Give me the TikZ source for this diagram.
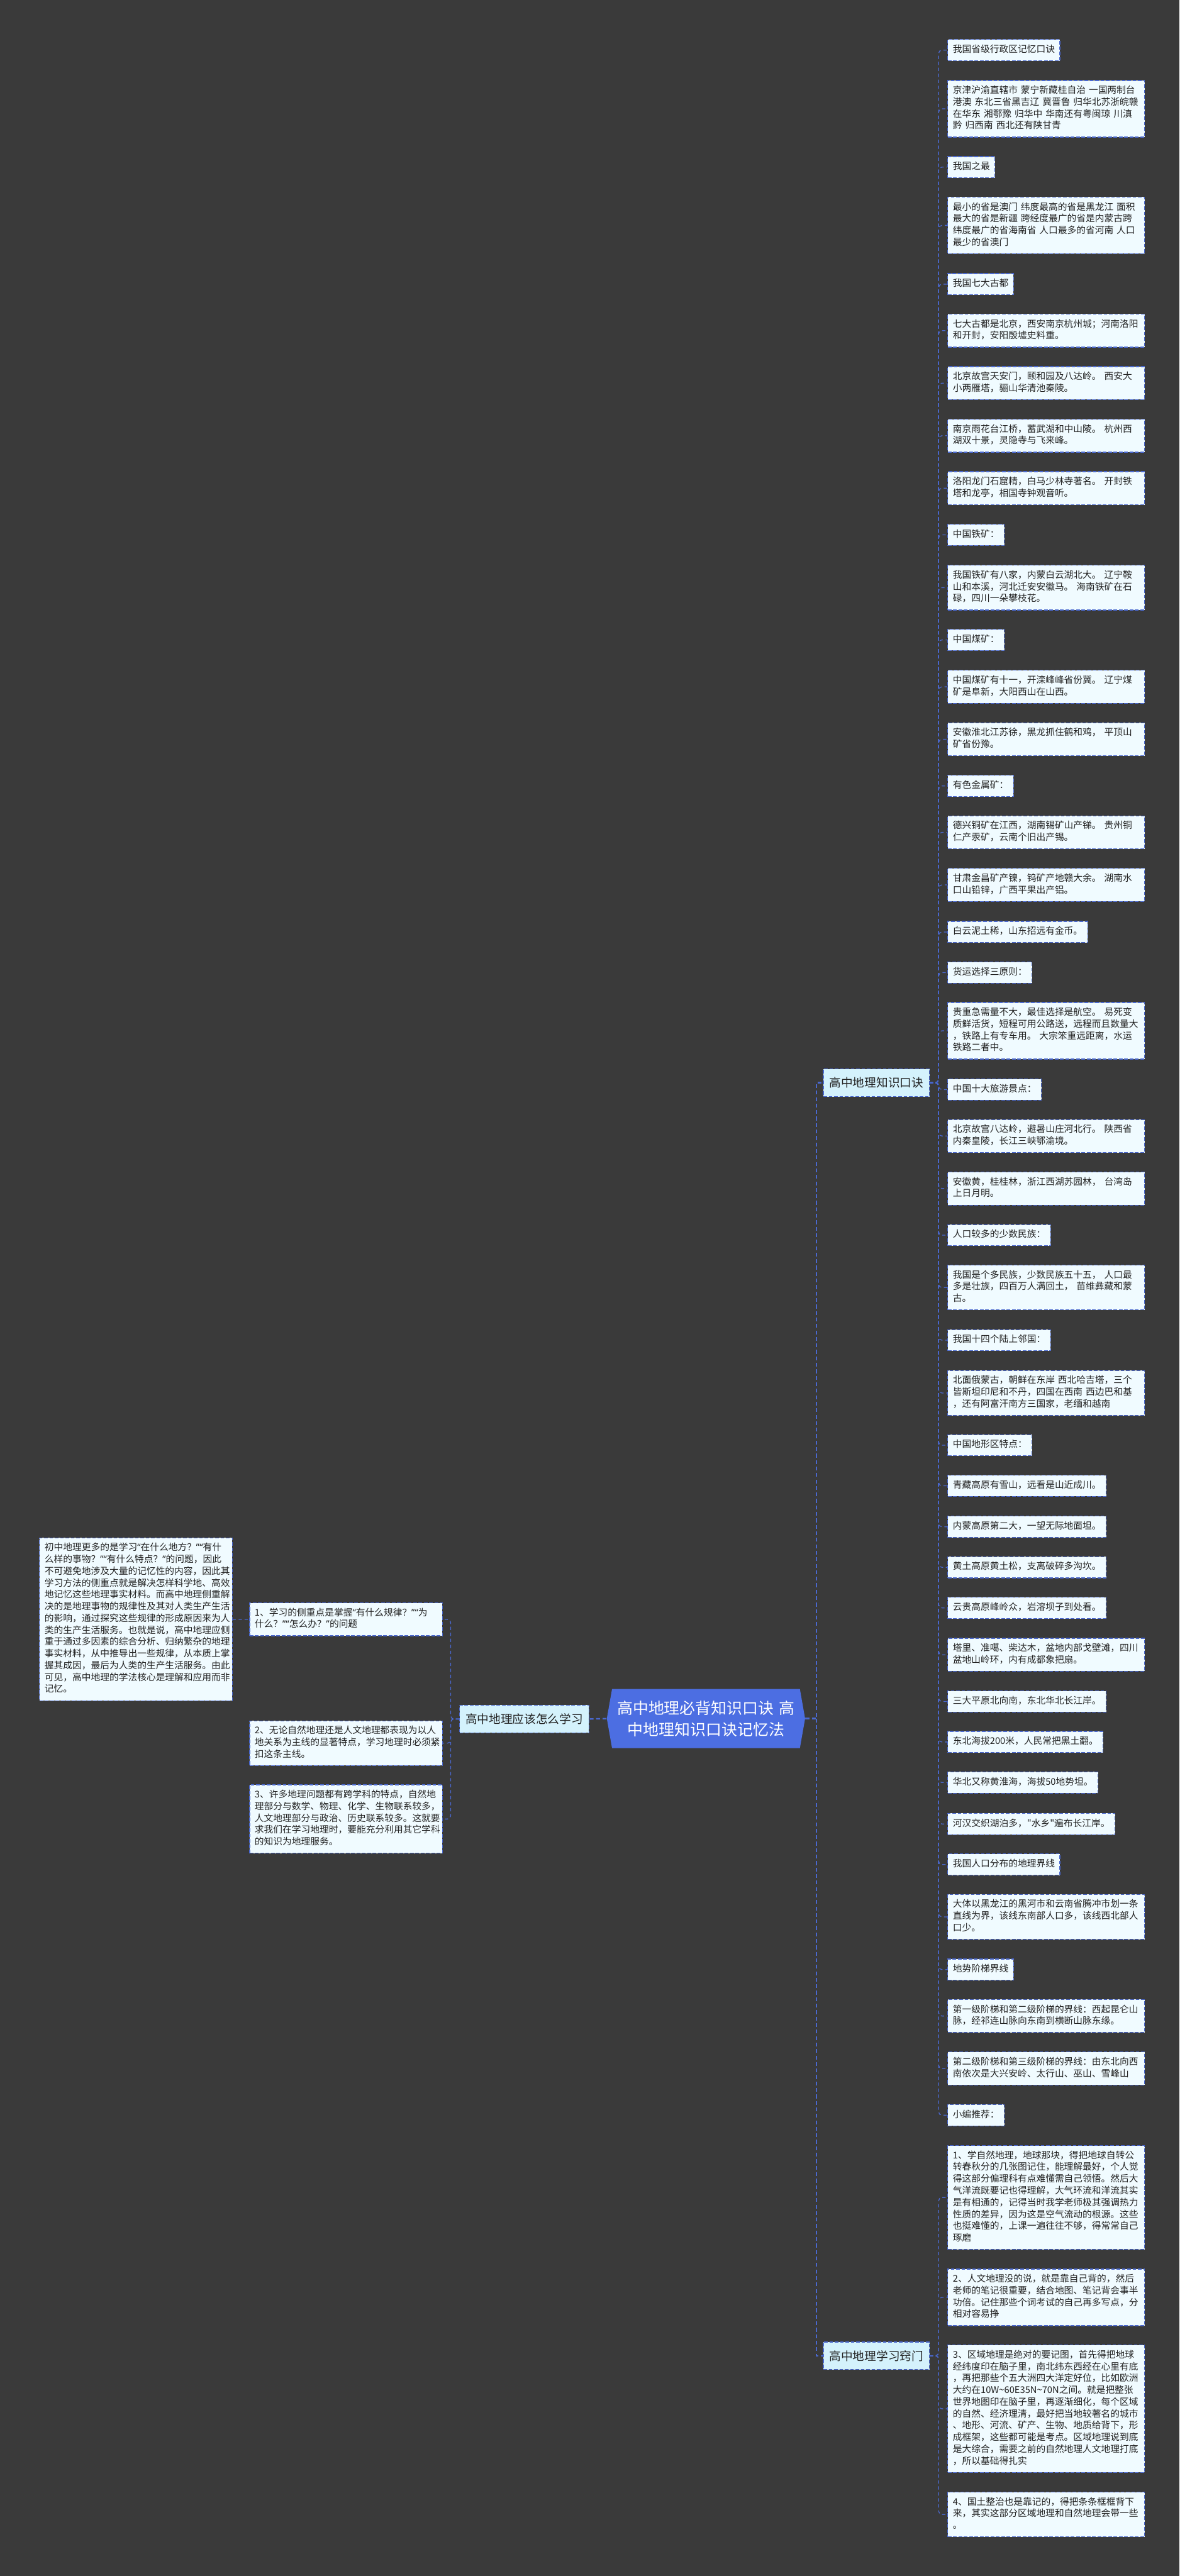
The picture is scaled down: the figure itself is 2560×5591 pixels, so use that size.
\documentclass[tikz,border=0pt]{standalone}
\usepackage{fontspec}
\usepackage{xcolor}
\usepackage{tikz}
\usetikzlibrary{shapes.symbols, positioning}
\newfontfamily\cjk{Noto Sans CJK SC}
\newfontfamily\qfont{Noto Sans}
\newcommand\oqt{{\qfont“}}
\newcommand\cqt{{\qfont”}}
\definecolor{bgdark}{RGB}{58,58,58}
\definecolor{leaffill}{RGB}{240,251,255}
\definecolor{linkblue}{RGB}{74,104,206}
\definecolor{hubblue}{RGB}{76,110,226}
\definecolor{branchfill}{RGB}{212,242,252}
\definecolor{inktext}{RGB}{34,34,34}
\tikzset{
  leaf/.style={rectangle, draw=linkblue, fill=leaffill, line width=0.45pt,
    dash pattern=on 2.2pt off 1.1pt, text=inktext,
    font=\cjk\fontsize{5.72}{7.28}\selectfont,
    inner xsep=0.11cm, inner ysep=0.102cm, anchor=north west,
    execute at begin node=\strut, execute at end node=\strut},
  wideleaf/.style={leaf, text width=4.05cm, align=left},
  sideleaf/.style={leaf, text width=3.96cm, align=left},
  branch/.style={rectangle, draw=linkblue, fill=branchfill, line width=0.5pt,
    dash pattern=on 2.2pt off 1.1pt, text=inktext,
    font=\cjk\fontsize{7.25}{9}\selectfont,
    inner xsep=0.13cm, minimum height=0.6cm},
  hub/.style={signal, signal to=west and east, signal pointer angle=160,
    fill=hubblue, text=white, font=\cjk\fontsize{9.67}{13.1}\selectfont,
    text width=3.95cm, align=center, inner xsep=0.02cm,
    minimum width=4.3cm, minimum height=1.28cm},
  link/.style={draw=linkblue, line width=0.5pt, dash pattern=on 2pt off 1.7pt},
  mainlink/.style={draw=linkblue, line width=0.9pt, dash pattern=on 2.4pt off 1.6pt}
}
\begin{document}
\begin{tikzpicture}[x=0.01cm, y=-0.01cm]
  \useasboundingbox[fill=bgdark] (0,0) rectangle (2560,5591);

  % Centre and branches
  \node[hub] (root) at (1532,3730) {高中地理必背知识口诀~高\\中地理知识口诀记忆法};
  \node[branch, anchor=east] (xuex) at (1279,3731) {高中地理应该怎么学习};
  \node[branch, anchor=west] (kouj) at (1786,2350) {高中地理知识口诀};
  \node[branch, anchor=west] (qiaom) at (1786,5113) {高中地理学习窍门};
  \coordinate (rtrunk) at (1772,3730);
  \coordinate (ktrunk) at (2037,2350);
  \coordinate (ltrunk) at (978,3731);

  % Left side: how to study
  \node[sideleaf] (xx0) at (85,3337) {初中地理更多的是学习\oqt 在什么地方？\cqt\oqt 有什\\么样的事物？\cqt\oqt 有什么特点？\cqt 的问题，因此\\不可避免地涉及大量的记忆性的内容，因此其\\学习方法的侧重点就是解决怎样科学地、高效\\地记忆这些地理事实材料。而高中地理侧重解\\决的是地理事物的规律性及其对人类生产生活\\的影响，通过探究这些规律的形成原因来为人\\类的生产生活服务。也就是说，高中地理应侧\\重于通过多因素的综合分析、归纳繁杂的地理\\事实材料，从中推导出一些规律，从本质上掌\\握其成因，最后为人类的生产生活服务。由此\\可见，高中地理的学法核心是理解和应用而非\\记忆。};
  \node[sideleaf] (xx1) at (541,3478) {1、学习的侧重点是掌握\oqt 有什么规律？\cqt\oqt 为\\什么？\cqt\oqt 怎么办？\cqt 的问题};
  \node[sideleaf] (xx2) at (541,3734) {2、无论自然地理还是人文地理都表现为以人\\地关系为主线的显著特点，学习地理时必须紧\\扣这条主线。};
  \node[sideleaf] (xx3) at (541,3873) {3、许多地理问题都有跨学科的特点，自然地\\理部分与数学、物理、化学、生物联系较多，\\人文地理部分与政治、历史联系较多。这就要\\求我们在学习地理时，要能充分利用其它学科\\的知识为地理服务。};

  % Right side: mnemonics
  \node[leaf] (kj1) at (2056,85) {我国省级行政区记忆口诀};
  \node[wideleaf] (kj2) at (2056,174) {京津沪渝直辖市~蒙宁新藏桂自治~一国两制台\\港澳~东北三省黑吉辽~冀晋鲁~归华北苏浙皖赣\\在华东~湘鄂豫~归华中~华南还有粤闽琼~川滇\\黔~归西南~西北还有陕甘青};
  \node[leaf] (kj3) at (2056,339) {我国之最};
  \node[wideleaf] (kj4) at (2056,427) {最小的省是澳门~纬度最高的省是黑龙江~面积\\最大的省是新疆~跨经度最广的省是内蒙古跨\\纬度最广的省海南省~人口最多的省河南~人口\\最少的省澳门};
  \node[leaf] (kj5) at (2056,593) {我国七大古都};
  \node[wideleaf] (kj6) at (2056,681) {七大古都是北京，西安南京杭州城；河南洛阳\\和开封，安阳殷墟史料重。};
  \node[wideleaf] (kj7) at (2056,795) {北京故宫天安门，颐和园及八达岭。~西安大\\小两雁塔，骊山华清池秦陵。};
  \node[wideleaf] (kj8) at (2056,909) {南京雨花台江桥，蓄武湖和中山陵。~杭州西\\湖双十景，灵隐寺与飞来峰。};
  \node[wideleaf] (kj9) at (2056,1023) {洛阳龙门石窟精，白马少林寺著名。~开封铁\\塔和龙亭，相国寺钟观音听。};
  \node[leaf] (kj10) at (2056,1137) {中国铁矿：};
  \node[wideleaf] (kj11) at (2056,1226) {我国铁矿有八家，内蒙白云湖北大。~辽宁鞍\\山和本溪，河北迁安安徽马。~海南铁矿在石\\碌，四川一朵攀枝花。};
  \node[leaf] (kj12) at (2056,1365) {中国煤矿：};
  \node[wideleaf] (kj13) at (2056,1454) {中国煤矿有十一，开滦峰峰省份冀。~辽宁煤\\矿是阜新，大阳西山在山西。};
  \node[wideleaf] (kj14) at (2056,1568) {安徽淮北江苏徐，黑龙抓住鹤和鸡，~平顶山\\矿省份豫。};
  \node[leaf] (kj15) at (2056,1682) {有色金属矿：};
  \node[wideleaf] (kj16) at (2056,1770) {德兴铜矿在江西，湖南锡矿山产锑。~贵州铜\\仁产汞矿，云南个旧出产锡。};
  \node[wideleaf] (kj17) at (2056,1884) {甘肃金昌矿产镍，钨矿产地赣大余。~湖南水\\口山铅锌，广西平果出产铝。};
  \node[leaf] (kj18) at (2056,1999) {白云泥土稀，山东招远有金币。};
  \node[leaf] (kj19) at (2056,2087) {货运选择三原则：};
  \node[wideleaf] (kj20) at (2056,2175) {贵重急需量不大，最佳选择是航空。~易死变\\质鲜活货，短程可用公路送，远程而且数量大\\，铁路上有专车用。~大宗笨重远距离，水运\\铁路二者中。};
  \node[leaf] (kj21) at (2056,2341) {中国十大旅游景点：};
  \node[wideleaf] (kj22) at (2056,2429) {北京故宫八达岭，避暑山庄河北行。~陕西省\\内秦皇陵，长江三峡鄂渝境。};
  \node[wideleaf] (kj23) at (2056,2543) {安徽黄，桂桂林，浙江西湖苏园林，~台湾岛\\上日月明。};
  \node[leaf] (kj24) at (2056,2657) {人口较多的少数民族：};
  \node[wideleaf] (kj25) at (2056,2745) {我国是个多民族，少数民族五十五，~人口最\\多是壮族，四百万人满回土，~苗维彝藏和蒙\\古。};
  \node[leaf] (kj26) at (2056,2885) {我国十四个陆上邻国：};
  \node[wideleaf] (kj27) at (2056,2974) {北面俄蒙古，朝鲜在东岸~西北哈吉塔，三个\\皆斯坦印尼和不丹，四国在西南~西边巴和基\\，还有阿富汗南方三国家，老缅和越南};
  \node[leaf] (kj28) at (2056,3113) {中国地形区特点：};
  \node[leaf] (kj29) at (2056,3201) {青藏高原有雪山，远看是山近成川。};
  \node[leaf] (kj30) at (2056,3290) {内蒙高原第二大，一望无际地面坦。};
  \node[leaf] (kj31) at (2056,3378) {黄土高原黄土松，支离破碎多沟坎。};
  \node[leaf] (kj32) at (2056,3466) {云贵高原峰岭众，岩溶坝子到处看。};
  \node[wideleaf] (kj33) at (2056,3555) {塔里、准噶、柴达木，盆地内部戈壁滩，四川\\盆地山岭环，内有成都象把扇。};
  \node[leaf] (kj34) at (2056,3669) {三大平原北向南，东北华北长江岸。};
  \node[leaf] (kj35) at (2056,3757) {东北海拔200米，人民常把黑土翻。};
  \node[leaf] (kj36) at (2056,3845) {华北又称黄淮海，海拔50地势坦。};
  \node[leaf] (kj37) at (2056,3935) {河汉交织湖泊多，"水乡"遍布长江岸。};
  \node[leaf] (kj38) at (2056,4023) {我国人口分布的地理界线};
  \node[wideleaf] (kj39) at (2056,4111) {大体以黑龙江的黑河市和云南省腾冲市划一条\\直线为界，该线东南部人口多，该线西北部人\\口少。};
  \node[leaf] (kj40) at (2056,4251) {地势阶梯界线};
  \node[wideleaf] (kj41) at (2056,4339) {第一级阶梯和第二级阶梯的界线：西起昆仑山\\脉，经祁连山脉向东南到横断山脉东缘。};
  \node[wideleaf] (kj42) at (2056,4453) {第二级阶梯和第三级阶梯的界线：由东北向西\\南依次是大兴安岭、太行山、巫山、雪峰山};
  \node[leaf] (kj43) at (2056,4567) {小编推荐：};

  % Right side: tips
  \node[wideleaf] (qm1) at (2056,4656) {1、学自然地理，地球那块，得把地球自转公\\转春秋分的几张图记住，能理解最好，个人觉\\得这部分偏理科有点难懂需自己领悟。然后大\\气洋流既要记也得理解，大气环流和洋流其实\\是有相通的，记得当时我学老师极其强调热力\\性质的差异，因为这是空气流动的根源。这些\\也挺难懂的，上课一遍往往不够，得常常自己\\琢磨};
  \node[wideleaf] (qm2) at (2056,4924) {2、人文地理没的说，就是靠自己背的，然后\\老师的笔记很重要，结合地图、笔记背会事半\\功倍。记住那些个词考试的自己再多写点，分\\相对容易挣};
  \node[wideleaf] (qm3) at (2056,5089) {3、区域地理是绝对的要记图，首先得把地球\\经纬度印在脑子里，南北纬东西经在心里有底\\，再把那些个五大洲四大洋定好位，比如欧洲\\大约在10W\textasciitilde60E35N\textasciitilde70N之间。就是把整张\\世界地图印在脑子里，再逐渐细化，每个区域\\的自然、经济理清，最好把当地较著名的城市\\、地形、河流、矿产、生物、地质给背下，形\\成框架，这些都可能是考点。区域地理说到底\\是大综合，需要之前的自然地理人文地理打底\\，所以基础得扎实};
  \node[wideleaf] (qm4) at (2056,5408) {4、国土整治也是靠记的，得把条条框框背下\\来，其实这部分区域地理和自然地理会带一些\\。};

  % Connectors
  \draw[mainlink] (root.west) -- (xuex.east);
  \draw[mainlink] (root.east) -- (rtrunk) |- (kouj.west);
  \draw[mainlink] (rtrunk) |- (qiaom.west);
  \foreach \i in {1,2,3}
    \draw[link, rounded corners=2pt] (xuex.west) -- (xuex.west -| ltrunk) |- (xx\i.east);
  \draw[link] (xx0.east) -- (xx1.west);
  \foreach \i in {1,...,43}
    \draw[link, rounded corners=2pt] (kouj.east) -- (kouj.east -| ktrunk) |- (kj\i.west);
  \foreach \i in {1,...,4}
    \draw[link, rounded corners=2pt] (qiaom.east) -- (qiaom.east -| ktrunk) |- (qm\i.west);
\end{tikzpicture}
\end{document}
